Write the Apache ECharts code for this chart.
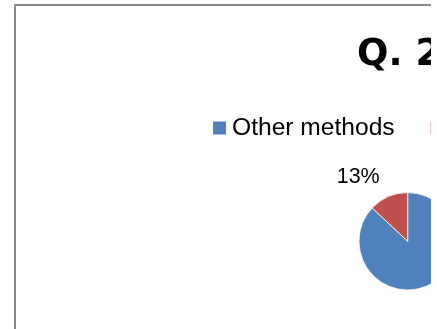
<!DOCTYPE html>
<html>
<head>
<meta charset="utf-8">
<script src="https://cdn.jsdelivr.net/npm/echarts@6/dist/echarts.min.js"></script>
<style>
html,body{margin:0;padding:0;background:#fff;}
#chart{width:431px;height:329px;}
</style>
</head>
<body>
<div id="chart"></div>
<script>
const titleText = 'Q. 2';
const categories = ['Other methods', 'This method'];
const values = [87, 13];
const colors = ['#4F81BD', '#C0504D'];

const chart = echarts.init(document.getElementById('chart'), null, {renderer: 'canvas'});
const font = 'Liberation Sans';

chart.setOption({
  animation: false,
  backgroundColor: '#fff',
  color: colors,
  title: {
    text: titleText,
    left: 357,
    top: 37,
    padding: 0,
    textStyle: {fontFamily: 'DejaVu Sans', fontSize: 37, fontWeight: 'bold', color: '#000', lineHeight: 37}
  },
  legend: {
    data: categories,
    orient: 'horizontal',
    left: 211,
    top: 113,
    width: 2000,
    padding: 0,
    itemWidth: 15,
    itemHeight: 15,
    itemGap: 34,
    icon: 'rect',
    textStyle: {fontFamily: font, fontSize: 24.6, color: '#000', lineHeight: 30}
  },
  graphic: [{
    type: 'rect',
    shape: {x: 15, y: 5, width: 600, height: 500},
    style: {fill: 'none', stroke: '#8a8a8a', lineWidth: 2},
    silent: true
  }],
  series: [{
    type: 'pie',
    center: [407.7, 241.3],
    radius: 48.7,
    startAngle: 90,
    clockwise: true,
    avoidLabelOverlap: false,
    itemStyle: {borderColor: '#fff', borderWidth: 0.8},
    label: {
      show: true,
      position: 'outside',
      formatter: function (p) { return Math.round(p.percent) + '%'; },
      fontFamily: font,
      fontSize: 21.5,
      color: '#000',
      distanceToLabelLine: 0
    },
    labelLine: {show: false, length: 21.7, length2: 0},
    emphasis: {disabled: true},
    data: categories.map(function (c, i) { return {name: c, value: values[i]}; })
  }]
});
</script>
</body>
</html>
